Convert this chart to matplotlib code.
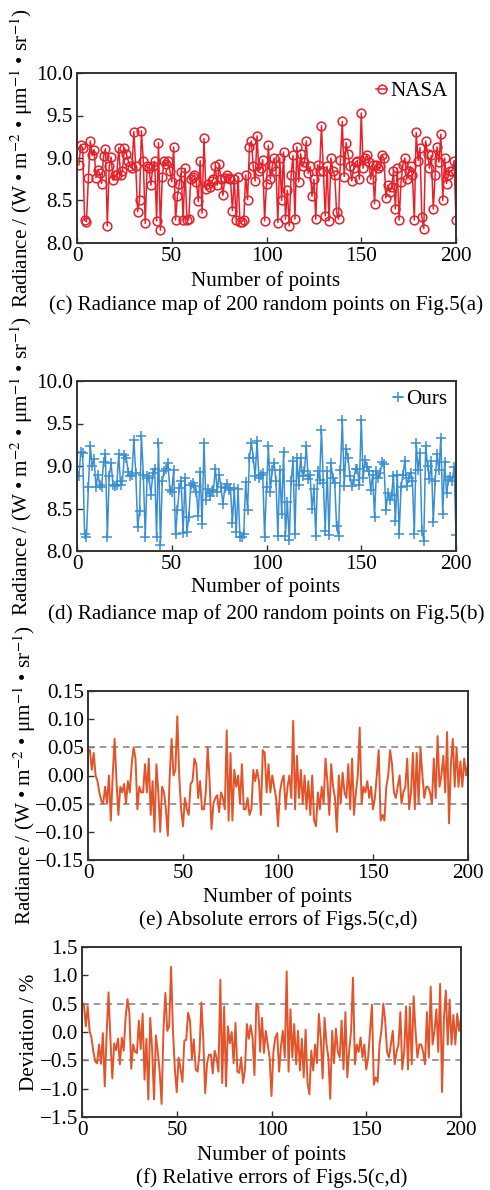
import matplotlib
matplotlib.use("Agg")
import matplotlib.pyplot as plt
import numpy as np

plt.rcParams["font.family"] = ["Liberation Serif", "DejaVu Serif"]
plt.rcParams["mathtext.fontset"] = "stix"

# radiance of 200 random points, NASA product (c) and ours (d)
nasa = [
    8.92, 9.15, 9.12, 8.27, 8.25, 8.76, 9.20, 9.03, 9.10, 8.77,
    8.86, 8.82, 8.70, 9.02, 9.11, 8.20, 8.90, 9.01, 8.74, 8.80,
    8.80, 9.12, 8.80, 8.85, 9.12, 9.05, 8.97, 8.90, 8.88, 9.31,
    8.90, 8.37, 8.51, 9.32, 8.96, 8.23, 8.90, 8.88, 8.68, 8.90,
    8.96, 8.26, 9.18, 8.15, 8.78, 8.97, 8.93, 8.97, 8.85, 8.72,
    9.13, 8.27, 8.55, 8.70, 8.84, 8.27, 8.88, 8.27, 8.28, 8.75,
    8.78, 8.80, 8.72, 8.49, 8.97, 8.35, 9.23, 8.63, 8.70, 8.66,
    8.73, 8.75, 8.90, 8.68, 8.93, 8.75, 8.56, 8.76, 8.80, 8.76,
    8.75, 8.38, 8.75, 8.27, 8.78, 8.25, 8.25, 8.27, 8.80, 8.51,
    9.13, 9.20, 8.90, 8.73, 9.26, 8.85, 8.88, 8.98, 8.26, 8.70,
    9.15, 8.75, 8.90, 9.00, 8.85, 8.24, 9.00, 8.50, 9.07, 8.28,
    8.62, 8.20, 8.80, 9.03, 8.28, 9.13, 8.72, 9.05, 8.90, 8.95,
    9.20, 8.82, 8.90, 8.55, 8.75, 8.28, 8.92, 8.85, 9.38, 8.85,
    8.32, 8.90, 8.26, 9.00, 8.85, 8.80, 8.36, 8.28, 8.98, 9.43,
    8.78, 9.18, 9.05, 8.90, 8.73, 8.88, 8.95, 8.97, 8.75, 9.53,
    8.88, 9.00, 9.03, 8.95, 8.75, 8.92, 8.46, 8.92, 8.88, 8.90,
    9.03, 9.00, 8.53, 8.68, 8.60, 8.66, 8.85, 8.40, 8.88, 8.27,
    8.72, 8.92, 9.00, 8.75, 8.85, 8.90, 8.80, 8.27, 9.30, 8.97,
    9.12, 8.30, 8.17, 9.20, 9.05, 8.88, 9.03, 8.40, 8.80, 9.13,
    8.95, 9.28, 8.50, 9.00, 8.70, 8.80, 8.85, 8.85, 8.97, 8.27,
]
ours = [
    8.88, 9.17, 9.15, 8.20, 8.17, 8.75, 9.23, 9.00, 9.08, 8.75,
    8.90, 8.78, 8.75, 9.05, 9.14, 8.16, 8.88, 9.03, 8.78, 8.76,
    8.78, 9.14, 8.78, 8.82, 9.13, 9.10, 8.93, 8.88, 8.90, 9.31,
    8.92, 8.28, 8.47, 9.35, 8.90, 8.17, 8.88, 8.86, 8.66, 8.92,
    8.96, 8.17, 9.27, 8.07, 8.82, 8.94, 8.96, 9.03, 8.72, 8.70,
    8.95, 8.20, 8.48, 8.74, 8.82, 8.21, 8.86, 8.22, 8.40, 8.78,
    8.80, 8.76, 8.70, 8.41, 8.93, 8.32, 9.27, 8.60, 8.73, 8.65,
    8.71, 8.72, 8.97, 8.70, 8.90, 8.75, 8.55, 8.74, 8.79, 8.72,
    8.74, 8.33, 8.74, 8.22, 8.73, 8.16, 8.17, 8.20, 8.81, 8.48,
    9.09, 9.27, 9.10, 8.88, 9.29, 8.86, 8.90, 8.92, 8.17, 8.75,
    9.23, 8.70, 8.95, 9.04, 8.82, 8.18, 8.95, 8.44, 9.16, 8.18,
    8.58, 8.13, 8.82, 9.06, 8.20, 9.09, 8.78, 9.09, 8.88, 8.94,
    9.23, 8.85, 8.90, 8.49, 8.73, 8.18, 8.94, 8.84, 9.42, 8.80,
    8.24, 8.94, 8.19, 9.03, 8.86, 8.80, 8.29, 8.18, 8.95, 9.54,
    8.76, 9.20, 9.10, 8.88, 8.76, 8.84, 8.97, 8.96, 8.78, 9.54,
    8.86, 9.07, 8.99, 8.94, 8.72, 8.90, 8.40, 8.94, 8.86, 8.92,
    9.05, 9.02, 8.48, 8.68, 8.60, 8.66, 8.88, 8.35, 8.90, 8.20,
    8.75, 8.90, 9.06, 8.77, 8.86, 8.92, 8.82, 8.20, 9.27, 8.95,
    9.15, 8.24, 8.12, 9.24, 9.00, 8.85, 9.06, 8.34, 8.82, 9.14,
    8.95, 9.33, 8.44, 9.05, 8.68, 8.83, 8.87, 8.82, 8.99, 8.19,
]

# absolute errors (e) and relative errors in % (f)
abs_err = [
    0.045, 0.010, 0.040, 0.000, -0.010, -0.030, -0.045, -0.050, -0.020, -0.050,
    0.000, -0.080, 0.000, 0.065, -0.010, -0.070, -0.020, -0.030, -0.015, -0.050,
    -0.010, -0.030, 0.020, 0.050, 0.030, -0.060, -0.020, -0.030, -0.030, 0.020,
    -0.030, 0.030, -0.070, -0.010, -0.100, 0.020, -0.030, -0.100, -0.020, -0.030,
    -0.060, -0.107, 0.000, 0.065, 0.000, 0.010, 0.105, 0.000, -0.060, -0.090,
    -0.040, -0.060, -0.070, -0.015, -0.010, 0.030, 0.020, -0.040, -0.010, -0.060,
    -0.060, -0.030, 0.050, -0.010, -0.095, -0.050, -0.040, -0.035, -0.065, -0.030,
    -0.040, -0.060, 0.080, -0.080, 0.040, -0.080, 0.010, -0.020, 0.000, -0.050,
    0.020, -0.060, -0.060, -0.040, -0.070, -0.060, 0.010, -0.010, 0.010, -0.010,
    -0.070, 0.045, 0.040, -0.030, 0.020, -0.030, 0.000, -0.020, -0.040, -0.090,
    -0.030, -0.010, 0.000, -0.060, -0.020, 0.000, -0.040, 0.097, -0.060, 0.035,
    -0.040, 0.010, -0.050, 0.000, -0.060, -0.010, -0.070, 0.000, -0.080, -0.090,
    -0.030, -0.060, -0.020, -0.050, 0.030, -0.010, -0.070, 0.020, -0.020, -0.040,
    -0.100, 0.000, -0.050, 0.005, -0.030, -0.040, 0.020, -0.060, 0.030, -0.070,
    -0.030, 0.000, 0.085, -0.050, -0.020, -0.030, -0.010, -0.040, -0.020, -0.060,
    -0.040, 0.000, 0.045, -0.080, -0.070, -0.080, -0.020, 0.000, 0.045, 0.020,
    -0.030, -0.040, -0.020, 0.000, -0.050, -0.030, -0.020, 0.030, -0.060, -0.030,
    0.040, -0.060, 0.040, -0.050, 0.050, 0.000, -0.040, -0.020, -0.020, -0.030,
    -0.050, 0.030, -0.040, 0.070, -0.020, 0.000, 0.035, -0.030, 0.077, -0.085,
    0.020, 0.065, -0.020, 0.050, -0.020, 0.025, -0.020, 0.030, 0.000, 0.020,
]
rel_err = [
    0.50, 0.10, 0.45, 0.02, -0.10, -0.35, -0.52, -0.55, -0.22, -0.56,
    -0.02, -0.96, -0.03, 0.70, -0.12, -0.82, -0.20, -0.32, -0.12, -0.57,
    -0.10, -0.33, 0.25, 0.58, 0.34, -0.65, -0.22, -0.35, -0.37, 0.20,
    -0.30, 0.32, -0.84, -0.12, -1.19, 0.25, -0.30, -1.19, -0.06, -0.35,
    -0.70, -1.27, 0.05, 0.69, 0.02, 0.10, 1.15, 0.03, -0.65, -1.06,
    -0.45, -0.65, -0.88, -0.15, -0.14, 0.34, 0.20, -0.47, -0.13, -0.66,
    -0.70, -0.35, 0.52, -0.13, -1.08, -0.55, -0.40, -0.40, -0.73, -0.33,
    -0.45, -0.70, 0.92, -0.90, 0.45, -0.96, 0.10, -0.20, 0.00, -0.55,
    0.16, -0.70, -0.72, -0.45, -0.90, -0.66, 0.14, -0.12, 0.12, -0.10,
    -0.76, 0.50, 0.45, -0.35, 0.25, -0.37, 0.02, -0.22, -0.45, -1.13,
    -0.35, -0.10, -0.02, -0.70, -0.25, 0.02, -0.45, 1.07, -0.70, 0.40,
    -0.45, 0.14, -0.57, 0.02, -0.68, -0.12, -0.80, 0.04, -0.90, -1.10,
    -0.33, -0.68, -0.22, -0.55, 0.32, -0.12, -0.82, 0.25, -0.20, -0.45,
    -1.18, 0.02, -0.55, 0.06, -0.35, -0.45, 0.20, -0.66, 0.35, -0.80,
    -0.33, 0.02, 0.96, -0.57, -0.22, -0.35, -0.10, -0.45, -0.22, -0.66,
    -0.45, 0.02, 0.48, -0.93, -0.80, -0.88, -0.22, 0.02, 0.50, 0.20,
    -0.35, -0.45, -0.22, 0.02, -0.57, -0.35, -0.22, 0.35, -0.66, -0.35,
    0.45, -0.66, 0.45, -0.57, 0.63, 0.02, -0.45, -0.22, -0.22, -0.35,
    -0.57, 0.35, -0.45, 0.80, -0.22, 0.02, 0.40, -0.35, 0.85, -1.06,
    0.25, 0.73, -0.22, 0.57, -0.22, 0.30, -0.22, 0.32, 0.02, 0.25,
]

x = np.arange(1, len(nasa) + 1)

W, H = 490, 1190
FS = 15.2
RAD_LABEL = r"Radiance / (W • m$^{-2}$ • μm$^{-1}$ • sr$^{-1}$)"

fig = plt.figure(figsize=(W / 100, H / 100), dpi=100)


def add_axes(left, top, right, bottom):
    return fig.add_axes([left / W, 1 - bottom / H, (right - left) / W, (bottom - top) / H])


def style(ax, ylim, yticks, fmt):
    ax.set_xlim(0, 200)
    ax.set_ylim(*ylim)
    ax.set_xticks([0, 50, 100, 150, 200])
    ax.set_yticks(yticks)
    ax.set_yticklabels([fmt.format(v).replace("-", "\u2212") for v in yticks])
    ax.tick_params(direction="in", length=4, width=1, labelsize=FS, pad=3,
                   top=False, right=False, color="#333333")
    for sp in ax.spines.values():
        sp.set_linewidth(1.4)
        sp.set_color("#333333")


def caption(xc, yl, yc, text_x, text_c, ylab, ylab_x, yc_axes):
    fig.text(xc / W, 1 - yl / H, text_x, ha="center", va="center", fontsize=FS)
    fig.text(xc / W, 1 - yc / H, text_c, ha="center", va="center", fontsize=FS)
    fig.text(ylab_x / W, 1 - yc_axes / H, ylab, ha="center", va="center",
             rotation=90, fontsize=FS)


# (c) NASA
ax = add_axes(77, 73, 456, 243)
ax.plot(x, nasa, "-o", color="#e8202a", lw=1.1, ms=6.3, mfc="none", mew=1.1, label="NASA")
style(ax, (8.0, 10.0), [8.0, 8.5, 9.0, 9.5, 10.0], "{:.1f}")
ax.legend(loc="upper right", frameon=False, fontsize=FS, handlelength=0.5,
          handletextpad=0.15, borderaxespad=0.2, borderpad=0.2)
caption(266, 281, 305, "Number of points",
        "(c) Radiance map of 200 random points on Fig.5(a)", RAD_LABEL, 22, 158)

# (d) Ours
ax = add_axes(77, 381, 456, 551)
ax.plot(x, ours, "-+", color="#3a8fd3", lw=1.1, ms=6.5, mew=1.1, label="Ours")
style(ax, (8.0, 10.0), [8.0, 8.5, 9.0, 9.5, 10.0], "{:.1f}")
ax.legend(loc="upper right", frameon=False, fontsize=FS, handlelength=0.5,
          handletextpad=0.15, borderaxespad=0.2, borderpad=0.2)
caption(266, 587, 614, "Number of points",
        "(d) Radiance map of 200 random points on Fig.5(b)", RAD_LABEL, 22, 466)

# (e) absolute errors
ax = add_axes(88, 691, 468, 860)
for lvl in (0.05, -0.05):
    ax.axhline(lvl, color="#8a8a8a", lw=1.2, ls=(0, (4, 3)))
ax.plot(x, abs_err, "-", color="#e2542a", lw=1.4)
style(ax, (-0.15, 0.15), [-0.15, -0.10, -0.05, 0.0, 0.05, 0.10, 0.15], "{:.2f}")
caption(278, 897, 920, "Number of points",
        "(e) Absolute errors of Figs.5(c,d)", RAD_LABEL, 25, 775)

# (f) relative errors
ax = add_axes(82, 947, 461, 1117)
for lvl in (0.5, -0.5):
    ax.axhline(lvl, color="#8a8a8a", lw=1.2, ls=(0, (4, 3)))
ax.plot(x, rel_err, "-", color="#e2542a", lw=1.4)
style(ax, (-1.5, 1.5), [-1.5, -1.0, -0.5, 0.0, 0.5, 1.0, 1.5], "{:.1f}")
caption(272, 1155, 1178, "Number of points",
        "(f) Relative errors of Figs.5(c,d)", "Deviation / %", 29, 1032)

fig.savefig("out.png", dpi=100)
